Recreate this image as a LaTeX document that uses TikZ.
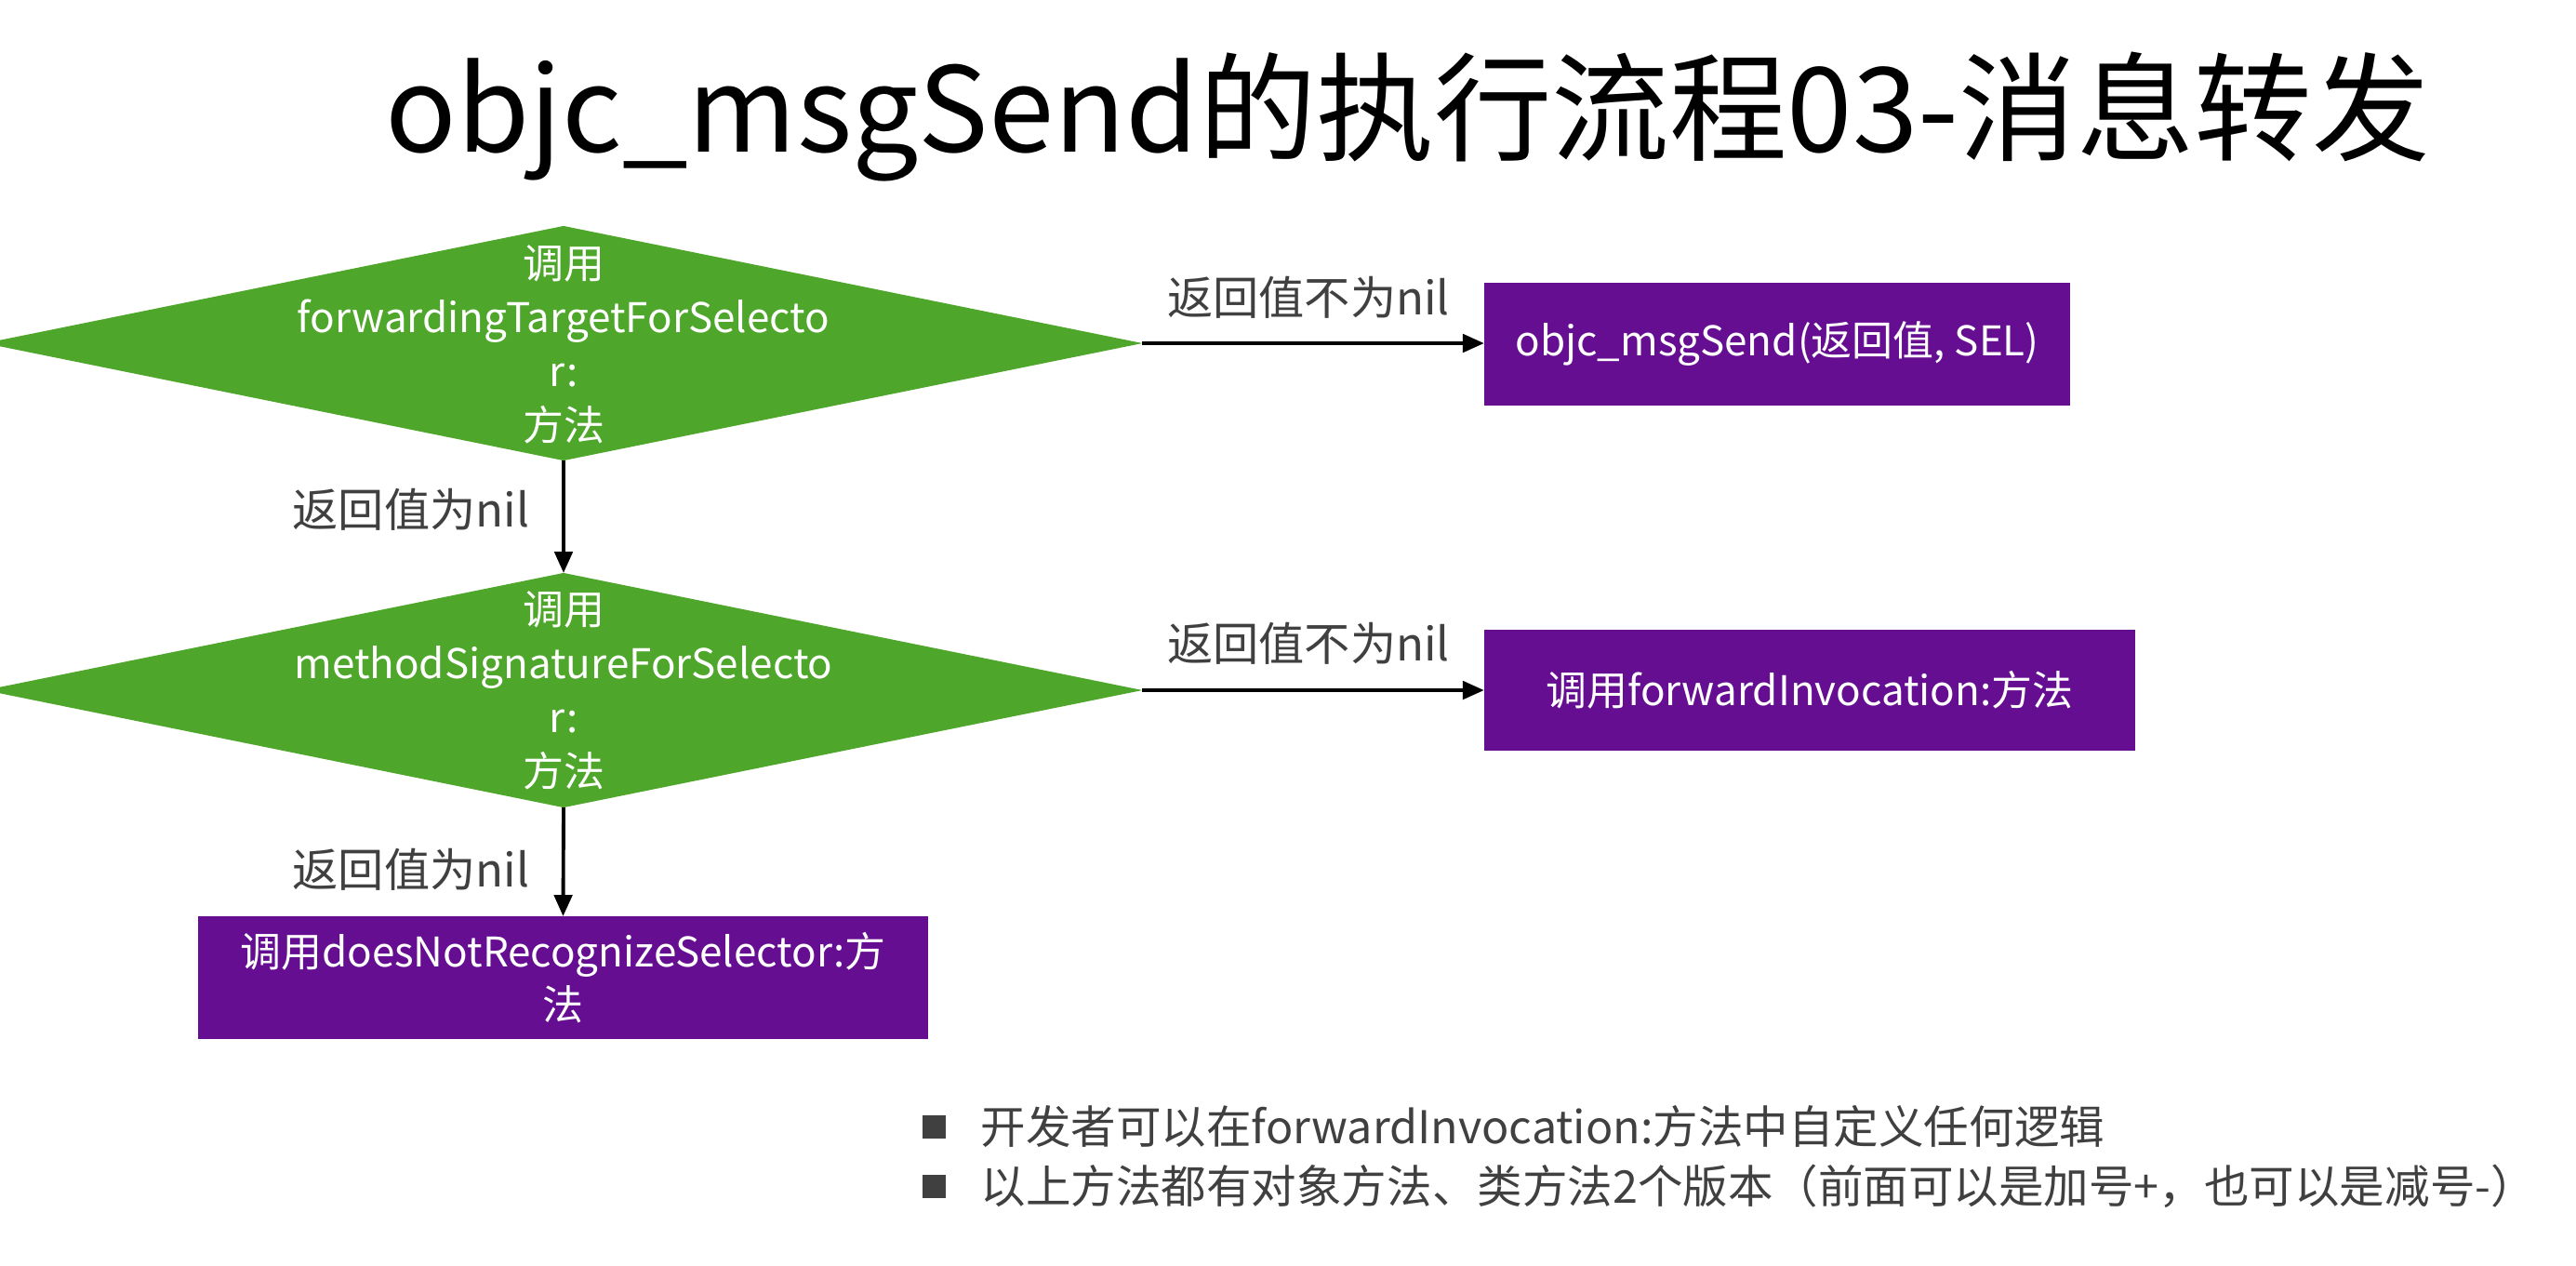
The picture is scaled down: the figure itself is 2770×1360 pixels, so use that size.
\documentclass[tikz,border=0pt]{standalone}
\usepackage{fontspec}
\setmainfont{Noto Sans CJK SC}
\usetikzlibrary{shapes.geometric,arrows.meta}
\definecolor{dgreen}{RGB}{78,166,42}
\definecolor{dpurple}{RGB}{101,14,145}
\definecolor{tgray}{RGB}{64,64,64}
\begin{document}
\begin{tikzpicture}[x=0.01cm,y=-0.01cm,
 dia/.style={diamond, fill=dgreen, inner sep=0pt, outer sep=0pt, minimum width=12.44cm, minimum height=2.52cm},
 dtext/.style={text=white, align=center, inner sep=0pt, font=\fontsize{12.5pt}{16.5pt}\selectfont},
 pbox/.style={rectangle, fill=dpurple, inner sep=0pt, outer sep=0pt, text=white, align=center, font=\fontsize{12.5pt}{16.3pt}\selectfont},
 lbl/.style={text=tgray, font=\fontsize{14pt}{17pt}\selectfont, inner sep=0pt},
 conn/.style={-{Triangle[length=6.5pt,width=5.5pt]}, line width=1.1pt, black},
 bul/.style={fill=tgray, minimum size=0.25cm, inner sep=0pt},
 btext/.style={text=tgray, font=\fontsize{13.8pt}{17pt}\selectfont, anchor=west, inner sep=0pt}]
\useasboundingbox[fill=white] (0,0) rectangle (2770,1360);

\node[anchor=base west, inner sep=0pt, font=\fontsize{36pt}{43pt}\selectfont] (title) at (414,163) {objc\_msgSend的执行流程03-消息转发};

\node[dia] (d1) at (606,369) {};
\node[dtext] (d1t) at (606,370) {调用\\forwardingTargetForSelecto\\r:\\方法};
\node[dia] (d2) at (606,742) {};
\node[dtext] (d2t) at (606,742) {调用\\methodSignatureForSelecto\\r:\\方法};

\node[pbox, minimum width=6.30cm, minimum height=1.32cm] (b1) at (1911,370) {objc\_msgSend(返回值, SEL)};
\node[pbox, minimum width=7.00cm, minimum height=1.30cm] (b2) at (1946,742) {调用forwardInvocation:方法};
\node[pbox, minimum width=7.85cm, minimum height=1.32cm] (b3) at (605.5,1051) {调用doesNotRecognizeSelector:方\\法};

\draw[conn] (d1.east) -- (b1.west |- d1.east);
\draw[conn] (d2.east) -- (b2.west |- d2.east);
\draw[conn] (d1.south) -- (d2.north);
\draw[conn] (d2.south) -- (b3.north);

\node[lbl] (l1) at (1407,320) {返回值不为nil};
\node[lbl] (l2) at (1407,692) {返回值不为nil};
\node[lbl] (l3) at (442,548) {返回值为nil};
\node[lbl] (l4) at (442,935) {返回值为nil};

\node[bul] (s1) at (1004,1211) {};
\node[btext] (t1) at (1054,1211) {开发者可以在forwardInvocation:方法中自定义任何逻辑};
\node[bul] (s2) at (1004,1275) {};
\node[btext] (t2) at (1054,1275) {以上方法都有对象方法、类方法2个版本（前面可以是加号+，也可以是减号-）};
\end{tikzpicture}
\end{document}
